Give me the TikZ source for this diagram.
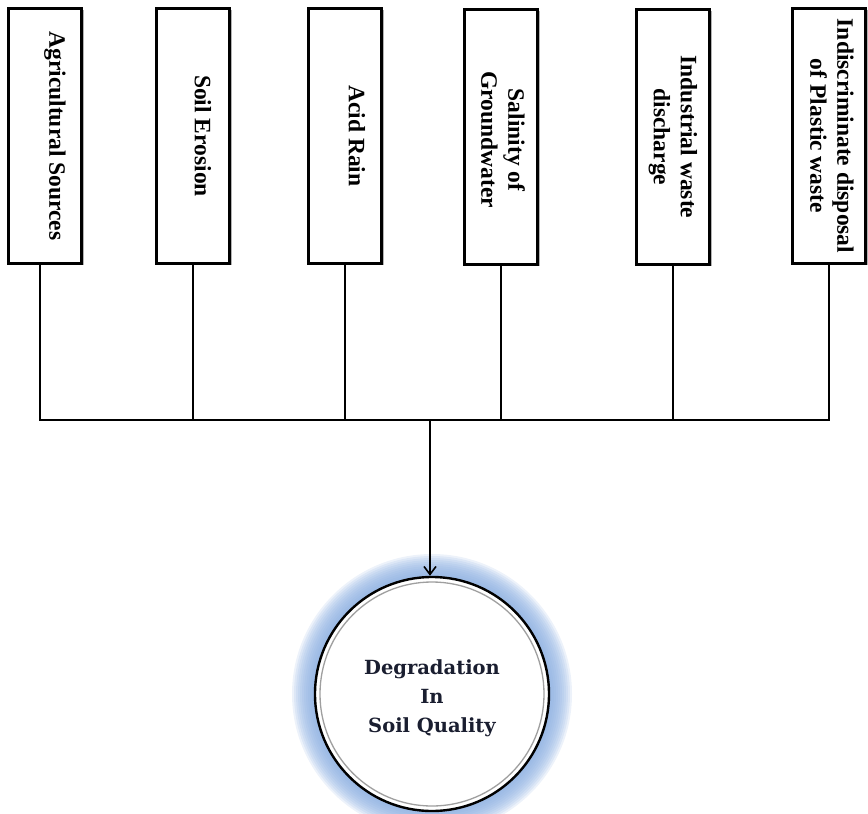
\documentclass[tikz,border=0pt]{standalone}
\usepackage{fontspec}
\usepackage{tikz}
\usetikzlibrary{arrows.meta,positioning,shadows,backgrounds}
\newfontfamily\boxfont{Liberation Serif}
\newfontfamily\sinkfont{DejaVu Serif}
\definecolor{soilink}{HTML}{1A1E30}
\definecolor{glowblue}{RGB}{140,175,225}

\begin{document}
\begin{tikzpicture}[
  x=1pt, y=1pt,
  srcbox/.style={draw, line width=2.6pt, fill=white,
                 minimum width=73pt, minimum height=255pt, inner sep=0pt,
                 drop shadow={shadow xshift=2pt, shadow yshift=-1.5pt,
                              fill=black, opacity=0.3}},
  srctext/.style={rotate=-90, align=center, inner sep=0pt,
                  font=\boxfont\bfseries\fontsize{23.5}{27}\selectfont},
  sink/.style={circle, draw, line width=2.4pt, fill=white, minimum size=234pt},
  sinktext/.style={align=center, inner sep=0pt,
                   font=\sinkfont\bfseries\fontsize{19.5}{29}\selectfont,
                   text=soilink},
  wire/.style={line width=2pt, line cap=rect},
  arrow/.style={line width=2pt, -{Straight Barb[length=8pt, width=12pt, line width=1.6pt]}}
]
  \useasboundingbox (0,0) rectangle (868,-814);

  % the six sources
  \node[srcbox] (agri) at (45,-136) {};
  \node[srcbox] (erosion) at (193,-136) {};
  \node[srcbox] (acid) at (345,-136) {};
  \node[srcbox] (salt) at (501,-137) {};
  \node[srcbox] (industry) at (673,-137) {};
  \node[srcbox] (plastic) at (829,-136) {};

  \node[srctext] (agri-txt) at ([xshift=10pt]agri.center) {Agricultural Sources};
  \node[srctext] (erosion-txt) at ([xshift=10pt]erosion.center) {Soil Erosion};
  \node[srctext] (acid-txt) at ([xshift=12pt]acid.center) {Acid Rain};
  \node[srctext] (salt-txt) at ([xshift=2pt, yshift=-3pt]salt.center) {Salinity of\\Groundwater};
  \node[srctext] (industry-txt) at (industry.center) {Industrial waste\\discharge};
  \node[srctext] (plastic-txt) at ([xshift=3pt]plastic.center) {Indiscriminate disposal\\of Plastic waste};

  % the effect
  \node[sink] (degr) at (432,-694) {};
  \node[sinktext] (degr-txt) at ([yshift=-4pt]degr.center) {Degradation\\In\\Soil Quality};
  \draw[gray!75, line width=1.3pt] (degr.center) circle (112pt);
  \begin{scope}[on background layer]
    \foreach \r in {140,138,...,118}
      \fill[glowblue, opacity=0.16] (degr.center) circle (\r pt);
  \end{scope}

  % collecting bus
  \coordinate (bus) at (430,-420);
  \draw[wire] ([xshift=-5pt]agri.south) |- (plastic.south |- bus) -- (plastic.south);
  \draw[wire] (erosion.south) -- (erosion.south |- bus);
  \draw[wire] (acid.south) -- (acid.south |- bus);
  \draw[wire] (salt.south) -- (salt.south |- bus);
  \draw[wire] (industry.south) -- (industry.south |- bus);
  \draw[arrow] (bus) -- (degr.north -| bus);
\end{tikzpicture}
\end{document}
